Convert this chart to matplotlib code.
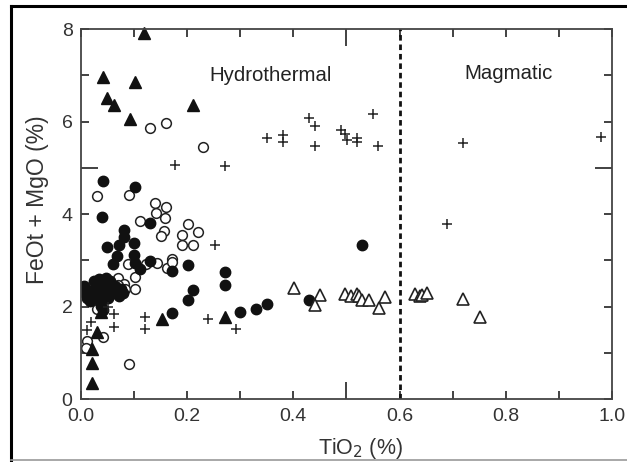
import matplotlib
matplotlib.use("Agg")
import matplotlib.pyplot as plt
from matplotlib.lines import Line2D
from matplotlib.ticker import FixedLocator, FuncFormatter

plt.rcParams['font.family'] = ['Liberation Sans', 'DejaVu Sans']

# filled circles
fc_x = [0.041, 0.101, 0.040, 0.131, 0.081, 0.081, 0.050, 0.071, 0.100, 0.100,
        0.068, 0.061, 0.102, 0.112, 0.131, 0.171, 0.201, 0.272, 0.272, 0.211,
        0.201, 0.171, 0.300, 0.330, 0.350, 0.430, 0.530,
        0.005, 0.008, 0.012, 0.018, 0.022, 0.025, 0.028, 0.030, 0.035, 0.035,
        0.040, 0.042, 0.045, 0.048, 0.050, 0.052, 0.055, 0.060, 0.065, 0.072,
        0.075, 0.038, 0.042, 0.080]
fc_y = [4.71, 4.59, 3.94, 3.80, 3.65, 3.51, 3.28, 3.33, 3.37, 3.11,
        3.09, 2.93, 2.95, 2.81, 2.99, 2.77, 2.90, 2.74, 2.46, 2.37,
        2.14, 1.87, 1.89, 1.96, 2.05, 2.14, 3.34,
        2.45, 2.30, 2.18, 2.12, 2.35, 2.55, 2.25, 2.45, 2.60, 2.15,
        2.35, 2.52, 2.22, 2.62, 2.40, 2.18, 2.55, 2.30, 2.45, 2.22,
        2.38, 2.02, 1.92, 2.30]

# open circles
oc_x = [0.131, 0.160, 0.230, 0.031, 0.090, 0.140, 0.161, 0.141, 0.159, 0.111,
        0.201, 0.191, 0.221, 0.157, 0.150, 0.191, 0.211, 0.089, 0.122, 0.143,
        0.162, 0.171, 0.171, 0.069, 0.081, 0.083, 0.102, 0.101, 0.070, 0.031,
        0.042, 0.012, 0.009, 0.090]
oc_y = [5.87, 5.96, 5.45, 4.40, 4.42, 4.23, 4.16, 4.02, 3.91, 3.86,
        3.78, 3.55, 3.61, 3.63, 3.52, 3.33, 3.34, 2.93, 2.93, 2.95,
        2.84, 3.04, 2.97, 2.63, 2.50, 2.39, 2.65, 2.39, 2.46, 1.94,
        1.35, 1.25, 1.10, 0.76]

# plus signs
pl_x = [0.177, 0.272, 0.350, 0.381, 0.381, 0.429, 0.440, 0.440, 0.489, 0.498,
        0.501, 0.519, 0.520, 0.550, 0.560, 0.719, 0.979, 0.690, 0.252, 0.011,
        0.019, 0.052, 0.063, 0.063, 0.121, 0.121, 0.240, 0.292]
pl_y = [5.07, 5.04, 5.65, 5.72, 5.56, 6.08, 5.90, 5.47, 5.82, 5.74,
        5.60, 5.64, 5.56, 6.16, 5.47, 5.54, 5.67, 3.78, 3.33, 1.49,
        1.67, 2.00, 1.84, 1.57, 1.78, 1.51, 1.74, 1.51]

# filled triangles
ft_x = [0.119, 0.041, 0.101, 0.050, 0.062, 0.092, 0.211, 0.152, 0.272, 0.038,
        0.030, 0.021, 0.021, 0.021]
ft_y = [7.91, 6.96, 6.86, 6.52, 6.35, 6.06, 6.35, 1.73, 1.78, 1.89,
        1.45, 1.08, 0.79, 0.35]

# open triangles
ot_x = [0.401, 0.451, 0.441, 0.498, 0.508, 0.519, 0.523, 0.530, 0.542, 0.561,
        0.572, 0.629, 0.638, 0.643, 0.651, 0.719, 0.751]
ot_y = [2.41, 2.25, 2.03, 2.27, 2.23, 2.27, 2.23, 2.14, 2.14, 1.98,
        2.21, 2.28, 2.23, 2.25, 2.30, 2.16, 1.78]

boundary = 0.6

fig = plt.figure(figsize=(6.27, 4.62), dpi=100)
ax = fig.add_axes([0.129, 0.136, 0.847, 0.801])

k = "#111111"
ax.plot(oc_x, oc_y, "o", ms=7, mfc="white", mec="#222222", mew=1.1, ls="none")
ax.plot(fc_x, fc_y, "o", ms=7.5, mfc=k, mec=k, ls="none")
ax.plot(pl_x, pl_y, "+", ms=7, mec="#222222", mew=1.1, ls="none")
ax.plot(ft_x, ft_y, "^", ms=8.5, mfc=k, mec=k, ls="none", clip_on=False)
ax.plot(ot_x, ot_y, "^", ms=8, mfc="white", mec="#222222", mew=1.2, ls="none")

ax.axvline(boundary, color=k, lw=2, ls=(0, (2, 1.4)))

ax.text(0.358, 7.0, "Hydrothermal", ha="center", va="center", fontsize=14.7, color="#222222")
ax.text(0.806, 7.05, "Magmatic", ha="center", va="center", fontsize=14.7, color="#222222")

ax.set_xlim(0, 1.0)
ax.set_ylim(0, 8)

xt = [0.0, 0.1, 0.2, 0.3, 0.4, 0.6, 0.7, 0.8, 0.9, 1.0]
yt = [0, 1, 2, 3, 4, 6, 7, 8]
ax.xaxis.set_major_locator(FixedLocator(xt))
ax.xaxis.set_minor_locator(FixedLocator([0.5]))
ax.yaxis.set_major_locator(FixedLocator(yt))
ax.yaxis.set_minor_locator(FixedLocator([5]))
ax.xaxis.set_major_formatter(FuncFormatter(
    lambda v, p: f"{v:.1f}" if round(v * 10) % 2 == 0 else ""))
ax.yaxis.set_major_formatter(FuncFormatter(
    lambda v, p: f"{v:.0f}" if round(v) % 2 == 0 else ""))

ax.tick_params(which="both", direction="in", top=True, right=True,
               colors="#333333", labelcolor="#333333", labelsize=14, width=1.3)
ax.tick_params(which="major", length=6, pad=6)
ax.tick_params(which="minor", length=12.5)
for s in ax.spines.values():
    s.set_color("#444444")
    s.set_linewidth(1.3)

ax.set_xlabel("TiO$_2$ (%)", fontsize=15.5, color="#333333", va="center")
ax.xaxis.set_label_coords(0.526, -0.132)
ax.set_ylabel("FeOt + MgO (%)", fontsize=16.5, color="#333333", va="center")
ax.yaxis.set_label_coords(-0.081, 0.538)

# figure frame
fig.add_artist(Line2D([11 / 627, 11 / 627], [1 - 460 / 462, 1 - 6 / 462],
                      transform=fig.transFigure, color="black", lw=2.2))
fig.add_artist(Line2D([11 / 627, 1.0], [1 - 6 / 462, 1 - 6 / 462],
                      transform=fig.transFigure, color="black", lw=2.2))
fig.add_artist(Line2D([11 / 627, 1.0], [1 - 460 / 462, 1 - 460 / 462],
                      transform=fig.transFigure, color="#999999", lw=1.2))

fig.savefig("out.png", dpi=100)
